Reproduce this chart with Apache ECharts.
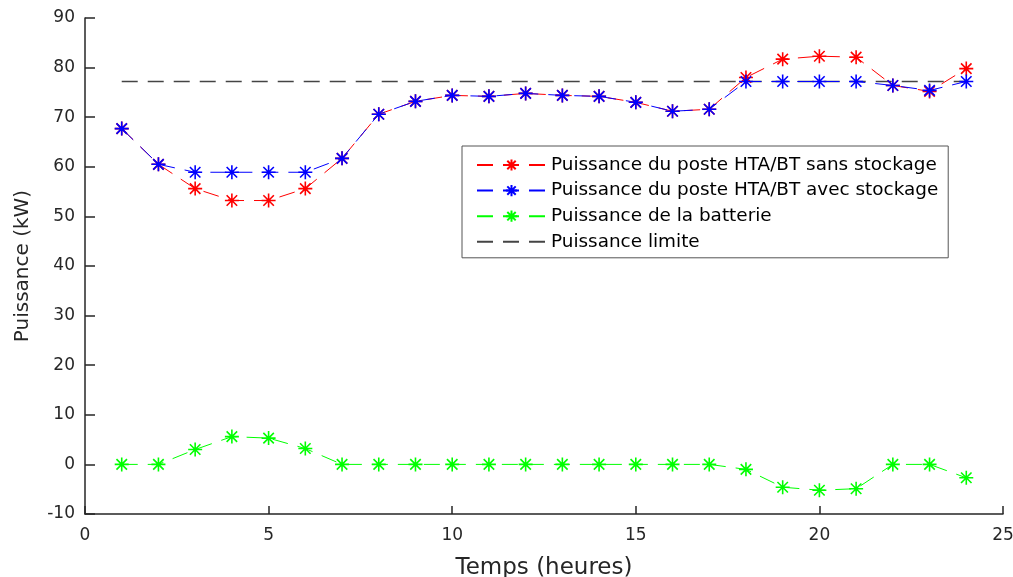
<!DOCTYPE html>
<html>
<head>
<meta charset="utf-8">
<script src="https://cdn.jsdelivr.net/npm/echarts@6/dist/echarts.min.js"></script>
<style>
html,body{margin:0;padding:0;background:#fff;}
#chart{width:1013px;height:577px;}
</style>
</head>
<body>
<div id="chart"></div>
<script>
const hours = [1,2,3,4,5,6,7,8,9,10,11,12,13,14,15,16,17,18,19,20,21,22,23,24];
const sansStockage = [67.7,60.5,55.6,53.2,53.2,55.6,61.7,70.6,73.2,74.4,74.2,74.8,74.4,74.2,73.0,71.2,71.6,78.0,81.7,82.3,82.1,76.4,75.2,79.8];
const avecStockage = [67.7,60.5,58.9,58.9,58.9,58.9,61.7,70.6,73.2,74.4,74.2,74.8,74.4,74.2,73.0,71.2,71.6,77.2,77.2,77.2,77.2,76.4,75.4,77.2];
const batterie = [0,0,3.0,5.6,5.3,3.2,0,0,0,0,0,0,0,0,0,0,0,-1.0,-4.6,-5.2,-4.9,0,0,-2.7];
const limiteHours = [1,24];
const limiteValue = 77.2;
const seriesNames = ['Puissance du poste HTA/BT sans stockage','Puissance du poste HTA/BT avec stockage','Puissance de la batterie','Puissance limite'];
const xTicks = {min:0,max:25,interval:5};
const yTicks = {min:-10,max:90,interval:10};

const star = 'path://M0,-10L0,10M-10,0L10,0M-7.5,-7.5L7.5,7.5M-7.5,7.5L7.5,-7.5';
const FONT = 'DejaVu Sans';
const dash = [16,10];
function pts(ys){return hours.map((h,i)=>[h,ys[i]]);}
function mk(name,ys,color){
  return {
    name:name,type:'line',data:pts(ys),
    symbol:star,symbolSize:14,
    lineStyle:{color:color,width:1,type:dash},
    itemStyle:{color:color,borderColor:color,borderWidth:1.6},
    emphasis:{disabled:true},
    animation:false,z:3
  };
}
const chart = echarts.init(document.getElementById('chart'));
chart.setOption({
  animation:false,
  backgroundColor:'#fff',
  grid:{left:85,right:10,top:18,bottom:63,outerBoundsMode:'none',containLabel:false},
  legend:{
    orient:'vertical',left:462,top:146,
    padding:[10,10,7,14],itemGap:7.6,
    itemWidth:69,itemHeight:14,
    backgroundColor:'#fff',borderColor:'#555',borderWidth:1,borderRadius:0,
    textStyle:{fontFamily:FONT,fontSize:18.4,color:'#000'},
    data:seriesNames
  },
  xAxis:{
    type:'value',min:xTicks.min,max:xTicks.max,interval:xTicks.interval,
    name:'Temps (heures)',nameLocation:'middle',nameGap:43,
    nameTextStyle:{fontFamily:FONT,fontSize:23,color:'#262626'},
    axisLine:{onZero:false,lineStyle:{color:'#262626',width:1.5}},
    axisTick:{inside:true,length:8,lineStyle:{color:'#262626',width:1.5}},
    axisLabel:{fontFamily:FONT,fontSize:17,color:'#262626',margin:13},
    splitLine:{show:false}
  },
  yAxis:{
    type:'value',min:yTicks.min,max:yTicks.max,interval:yTicks.interval,
    name:'Puissance (kW)',nameLocation:'middle',nameGap:52,
    nameTextStyle:{fontFamily:FONT,fontSize:20,color:'#262626'},
    axisLine:{show:true,onZero:false,lineStyle:{color:'#262626',width:1.5}},
    axisTick:{show:true,inside:true,length:10,lineStyle:{color:'#262626',width:1.5}},
    axisLabel:{fontFamily:FONT,fontSize:17,color:'#262626',margin:10},
    splitLine:{show:false}
  },
  series:[
    mk(seriesNames[0],sansStockage,'#ff0000'),
    mk(seriesNames[1],avecStockage,'#0000ff'),
    mk(seriesNames[2],batterie,'#00ff00'),
    {
      name:seriesNames[3],type:'line',
      data:limiteHours.map(h=>[h,limiteValue]),
      symbol:'none',
      lineStyle:{color:'#444',width:1.3,type:dash},
      itemStyle:{color:'rgba(0,0,0,0)',opacity:0},
      emphasis:{disabled:true},z:2
    }
  ]
});
</script>
</body>
</html>
